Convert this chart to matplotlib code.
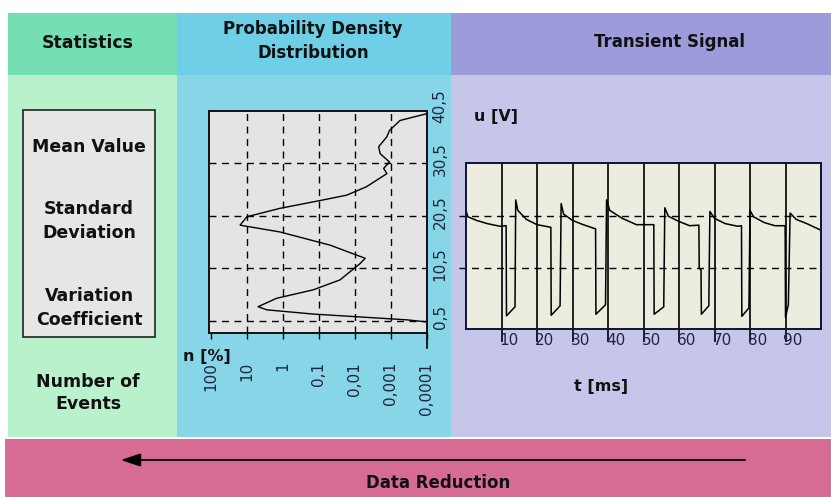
import matplotlib
matplotlib.use("Agg")
import matplotlib.pyplot as plt
from matplotlib.patches import Rectangle
from matplotlib.transforms import offset_copy, blended_transform_factory

# ---------------- data ----------------
# Probability density distribution (percent, log scale) vs. voltage
pdf_percent = [1e-4, 3.6e-4, 0.145, 2.8, 4.9, 1.5, 0.145, 0.026, 0.0072, 0.0052,
               0.049, 1.2, 15.5, 10.0, 1.2, 0.076, 0.017, 0.0048, 0.0013, 0.0016,
               0.0011, 0.002, 0.0022, 0.0013, 0.0011, 0.00056, 0.0001]
pdf_voltage = [0.3, 0.7, 1.8, 2.6, 3.2, 4.8, 6.4, 8.3, 11.4, 12.4,
               14.9, 17.4, 18.7, 20.3, 21.9, 23.5, 24.4, 26.0, 28.5, 29.5,
               30.7, 32.3, 33.6, 35.5, 36.7, 38.6, 39.9]
pdf_xticks = [100, 10, 1, 0.1, 0.01, 0.001, 0.0001]
pdf_xlabels = ["100", "10", "1", "0,1", "0,01", "0,001", "0,0001"]
volt_ticks = [0.5, 10.5, 20.5, 30.5, 40.5]
volt_labels = ["0,5", "10,5", "20,5", "30,5", "40,5"]

# Transient signal
sig_t = [0, 0.5, 3, 6, 9.5, 11.3, 11.4, 13.8, 14.0, 14.6, 17, 20, 23.9,
         24.0, 26.5, 26.8, 27.5, 30, 33, 36.5, 36.6, 39.3, 39.6, 40.5, 44, 48,
         52.9, 53.0, 55.7, 56.0, 57, 60, 63, 65.6, 65.7, 66.2, 66.3, 68.4, 68.7,
         70, 73, 76.5, 77.6, 77.7, 79.7, 80.0, 81, 84, 87, 89.9, 90.0, 90.8,
         91.3, 93, 96, 99.8]
sig_v = [21.5, 20.3, 19.6, 19.0, 18.5, 18.6, 1.5, 3.2, 23.5, 21.5, 19.8, 18.8, 18.3,
         1.6, 3.4, 22.8, 20.8, 19.6, 18.8, 18.0, 1.8, 3.6, 23.5, 21.5, 20.0, 18.8,
         18.8, 1.8, 3.2, 22.0, 20.4, 19.4, 18.6, 18.7, 10.5, 10.3, 1.8, 3.4, 21.3,
         20.0, 19.0, 18.5, 18.6, 1.4, 3.0, 21.5, 20.3, 19.2, 18.6, 18.6, 1.2, 3.6,
         21.0, 19.8, 19.0, 17.8]
t_ticks = [10, 20, 30, 40, 50, 60, 70, 80, 90]

stat_labels = ["Mean Value", "Standard\nDeviation", "Variation\nCoefficient"]
column_titles = ["Statistics", "Probability Density\nDistribution", "Transient Signal"]

# ---------------- figure ----------------
W, H = 831, 497
fig = plt.figure(figsize=(W / 100, H / 100), dpi=100)
bg = fig.add_axes([0, 0, 1, 1])
bg.set_xlim(0, W)
bg.set_ylim(H, 0)
bg.axis("off")

FONT = "DejaVu Sans"

def rect(x0, y0, x1, y1, color, **kw):
    bg.add_patch(Rectangle((x0, y0), x1 - x0, y1 - y0, facecolor=color,
                           edgecolor=kw.pop("ec", "none"), **kw))

# columns: headers and bodies
rect(8, 13, 177, 75, "#74dfb2")
rect(8, 75, 177, 437, "#b9f1cc")
rect(177, 13, 451, 75, "#6fcfe6")
rect(177, 75, 451, 437, "#86d6e8")
rect(451, 13, 831, 75, "#9c9cda")
rect(451, 75, 831, 437, "#c6c6ea")
# bottom band
rect(5, 439, 831, 497, "#d66b93")

# titles
bg.text(88, 43, column_titles[0], ha="center", va="center", fontsize=12.5,
        fontweight="bold", family=FONT, color="#111111")
bg.text(313, 41, column_titles[1], ha="center", va="center", fontsize=12,
        fontweight="bold", family=FONT, color="#111111", linespacing=1.4)
bg.text(669, 42, column_titles[2], ha="center", va="center", fontsize=12,
        fontweight="bold", family=FONT, color="#111111")

# statistics box
rect(23, 110, 155, 337, "#e6e6e6", ec="#222222", lw=1.2)
for lbl, yc in zip(stat_labels, [147, 221, 308]):
    bg.text(89, yc, lbl, ha="center", va="center", fontsize=12.5,
            fontweight="bold", family=FONT, color="#111111", linespacing=1.45)
bg.text(88, 393, "Number of\nEvents", ha="center", va="center", fontsize=12.5,
        fontweight="bold", family=FONT, color="#111111", linespacing=1.3)

# data reduction arrow
bg.annotate("", xy=(118, 460), xytext=(748, 460),
            arrowprops=dict(arrowstyle="-|>,head_length=1.2,head_width=0.4",
                            color="black", lw=1.3))
bg.text(438, 483, "Data Reduction", ha="center", va="center", fontsize=12,
        fontweight="bold", family=FONT, color="#111111")

# axis labels
bg.text(207, 356, "n [%]", ha="center", va="center", fontsize=11.5,
        fontweight="bold", family=FONT, color="#111111")
bg.text(496, 117, "u [V]", ha="center", va="center", fontsize=11.5,
        fontweight="bold", family=FONT, color="#111111")
bg.text(601, 387, "t [ms]", ha="center", va="center", fontsize=11.5,
        fontweight="bold", family=FONT, color="#111111")


def px_axes(x0, y0, x1, y1):
    return fig.add_axes([x0 / W, 1 - y1 / H, (x1 - x0) / W, (y1 - y0) / H])

# ---------------- PDF axes ----------------
ax1 = px_axes(209, 111, 427, 333)
ax1.set_facecolor("#e4e4e4")
ax1.set_xscale("log")
ax1.set_xlim(113, 1e-4)
ax1.set_ylim(-1.8, 40.4)
ax1.plot(pdf_percent, pdf_voltage, color="black", lw=1.0)
for xv in pdf_xticks[1:-1]:
    ax1.axvline(xv, color="black", lw=1.0, ls=(0, (5, 4)))
for yv in volt_ticks[:-1]:
    ax1.axhline(yv, color="black", lw=1.0, ls=(0, (5, 4)))
ax1.set_xticks(pdf_xticks)
ax1.set_xticklabels([])
ax1.minorticks_off()
ax1.set_yticks([])
ax1.tick_params(axis="x", direction="out", length=4, width=1, color="black")
for s in ax1.spines.values():
    s.set_linewidth(1.4)
    s.set_color("#111111")
# right spine extension
ax1.plot([1e-4, 1e-4], [-1.8, -4.6], color="black", lw=1.2, clip_on=False)

tr_x = blended_transform_factory(ax1.transData, ax1.transAxes)
for xv, lab in zip(pdf_xticks, pdf_xlabels):
    ax1.text(xv, -0.13, lab, transform=tr_x, rotation=90, ha="center", va="top",
             fontsize=11, family=FONT, color="#222244")
tr_y = blended_transform_factory(ax1.transAxes, ax1.transData)
tr_y = offset_copy(tr_y, fig=fig, x=0, y=4, units="dots")
for yv, lab in zip(volt_ticks, volt_labels):
    ax1.text(1.06, yv, lab, transform=tr_y, rotation=90, ha="center",
             va="center", fontsize=11, family=FONT, color="#222244")

# ---------------- transient axes ----------------
ax2 = px_axes(466, 163, 821, 329)
ax2.set_facecolor("#ececdf")
ax2.set_xlim(0, 100)
ax2.set_ylim(-1.0, 30.5)
for xv in t_ticks:
    ax2.axvline(xv, color="black", lw=1.2)
for yv in volt_ticks[1:3]:
    ax2.plot([-2, 100], [yv, yv], color="black", lw=1.0, ls=(0, (5, 4)),
             clip_on=False)
ax2.plot(sig_t, sig_v, color="black", lw=1.1)
ax2.set_xticks(t_ticks)
ax2.set_xticklabels([])
ax2.set_yticks([])
ax2.tick_params(axis="x", direction="out", length=9, width=1.2, color="black")
for s in ax2.spines.values():
    s.set_linewidth(1.4)
    s.set_color("#111133")
tr_t = blended_transform_factory(ax2.transData, ax2.transAxes)
tr_t = offset_copy(tr_t, fig=fig, x=-2, y=0, units="dots")
for xv in t_ticks:
    ax2.text(xv, -0.07, str(xv), transform=tr_t, ha="left", va="center",
             fontsize=11, family=FONT, color="#222244")

fig.savefig("out.png", dpi=100)
